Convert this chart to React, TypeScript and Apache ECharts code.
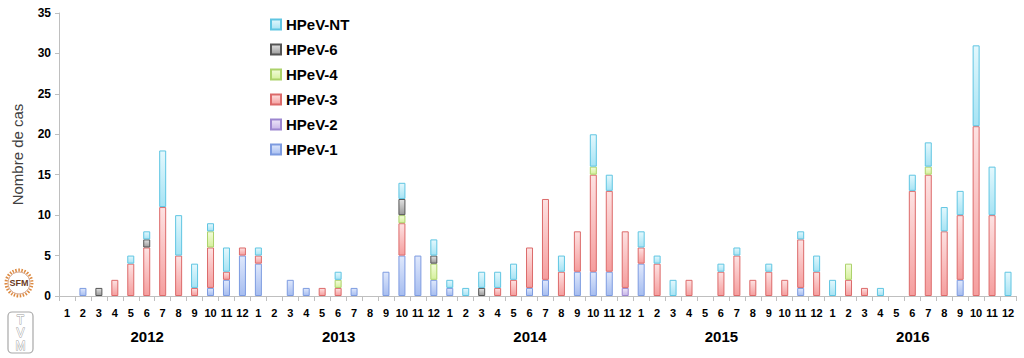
import React, { useEffect, useRef } from "react";
import * as echarts from "echarts";

const MONTHS = ["1", "2", "3", "4", "5", "6", "7", "8", "9", "10", "11", "12"];
const YEARS = ["2012", "2013", "2014", "2015", "2016"];
const Y_TICKS = { min: 0, max: 35, interval: 5 };

// 60 months: 2012-01 .. 2016-12
const HPEV1 = [
  0, 1, 0, 0, 0, 0, 0, 0, 0, 1, 2, 5,
  4, 0, 2, 1, 0, 0, 1, 0, 3, 5, 5, 2,
  1, 0, 0, 0, 0, 1, 2, 0, 3, 3, 3, 0,
  4, 0, 0, 0, 0, 0, 0, 0, 0, 0, 1, 0,
  0, 0, 0, 0, 0, 0, 0, 0, 2, 0, 0, 0,
];
const HPEV2 = [
  0, 0, 0, 0, 0, 0, 0, 0, 0, 0, 0, 0,
  0, 0, 0, 0, 0, 0, 0, 0, 0, 0, 0, 0,
  0, 0, 0, 0, 0, 0, 0, 0, 0, 0, 0, 1,
  0, 0, 0, 0, 0, 0, 0, 0, 0, 0, 0, 0,
  0, 0, 0, 0, 0, 0, 0, 0, 0, 0, 0, 0,
];
const HPEV3 = [
  0, 0, 0, 2, 4, 6, 11, 5, 1, 5, 1, 1,
  1, 0, 0, 0, 1, 1, 0, 0, 0, 4, 0, 0,
  0, 0, 0, 1, 2, 5, 10, 3, 5, 12, 10, 7,
  2, 4, 0, 2, 0, 3, 5, 2, 3, 2, 6, 3,
  0, 2, 1, 0, 0, 13, 15, 8, 8, 21, 10, 0,
];
const HPEV4 = [
  0, 0, 0, 0, 0, 0, 0, 0, 0, 2, 0, 0,
  0, 0, 0, 0, 0, 1, 0, 0, 0, 1, 0, 2,
  0, 0, 0, 0, 0, 0, 0, 0, 0, 1, 0, 0,
  0, 0, 0, 0, 0, 0, 0, 0, 0, 0, 0, 0,
  0, 2, 0, 0, 0, 0, 1, 0, 0, 0, 0, 0,
];
const HPEV6 = [
  0, 0, 1, 0, 0, 1, 0, 0, 0, 0, 0, 0,
  0, 0, 0, 0, 0, 0, 0, 0, 0, 2, 0, 1,
  0, 0, 1, 0, 0, 0, 0, 0, 0, 0, 0, 0,
  0, 0, 0, 0, 0, 0, 0, 0, 0, 0, 0, 0,
  0, 0, 0, 0, 0, 0, 0, 0, 0, 0, 0, 0,
];
const HPEVNT = [
  0, 0, 0, 0, 1, 1, 7, 5, 3, 1, 3, 0,
  1, 0, 0, 0, 0, 1, 0, 0, 0, 2, 0, 2,
  1, 1, 2, 2, 2, 0, 0, 2, 0, 4, 2, 0,
  2, 1, 2, 0, 0, 1, 1, 0, 1, 0, 1, 2,
  2, 0, 0, 1, 0, 2, 3, 3, 3, 10, 6, 3,
];

const SERIES = [
  { name: "HPeV-1", data: HPEV1, top: "#dfe8fc", bottom: "#a6bdf0", border: "#7d9be0" },
  { name: "HPeV-2", data: HPEV2, top: "#ede6f8", bottom: "#c6b4e8", border: "#9c86cf" },
  { name: "HPeV-3", data: HPEV3, top: "#fde2e2", bottom: "#f59e9e", border: "#dc6a6a" },
  { name: "HPeV-4", data: HPEV4, top: "#f3fcdc", bottom: "#d5f09c", border: "#acd26a" },
  { name: "HPeV-6", data: HPEV6, top: "#e2e2e2", bottom: "#9a9a9a", border: "#555555" },
  { name: "HPeV-NT", data: HPEVNT, top: "#e4f8fd", bottom: "#a6e3f4", border: "#5fc5e2" },
];

const FONT = "'Liberation Sans', Arial, sans-serif";

export default function App() {
  const ref = useRef<HTMLDivElement>(null);
  useEffect(() => {
    if (!ref.current) return;
    const chart = echarts.init(ref.current, null, { renderer: "svg" });
    const categories: string[] = [];
    YEARS.forEach(() => MONTHS.forEach((m) => categories.push(m)));

    const series = SERIES.map((s) => ({
      name: s.name,
      type: "bar",
      stack: "total",
      barWidth: 7,
      data: s.data.map((v) => (v === 0 ? null : v)),
      itemStyle: {
        color: new echarts.graphic.LinearGradient(0, 0, 0, 1, [
          { offset: 0, color: s.top },
          { offset: 1, color: s.bottom },
        ]),
        borderColor: s.border,
        borderWidth: 1,
      },
    }));

    const letter = (t: string, y: number) => ({
      type: "text",
      x: 20.5,
      y,
      style: {
        text: t,
        fontSize: 12,
        fill: "#fff",
        stroke: "#9a9a9a",
        lineWidth: 0.8,
        align: "center",
        verticalAlign: "middle",
        fontFamily: FONT,
      },
    });

    chart.setOption({
      animation: false,
      textStyle: { fontFamily: FONT },
      grid: { left: 59, right: 8, top: 13, bottom: 62, containLabel: false },
      legend: {
        orient: "vertical",
        left: 270,
        top: 17,
        padding: 0,
        itemGap: 10,
        itemWidth: 10,
        itemHeight: 10,
        icon: "rect",
        data: ["HPeV-NT", "HPeV-6", "HPeV-4", "HPeV-3", "HPeV-2", "HPeV-1"],
        textStyle: { fontSize: 15, fontWeight: "bold", color: "#000", fontFamily: FONT },
      },
      xAxis: [
        {
          type: "category",
          data: categories,
          axisLine: { lineStyle: { color: "#bfbfbf", width: 1 } },
          axisTick: { show: true, interval: 0, length: 5, lineStyle: { color: "#bfbfbf" } },
          axisLabel: { interval: 0, fontSize: 11, fontWeight: "bold", color: "#000", margin: 11, fontFamily: FONT },
        },
        {
          type: "category",
          data: YEARS,
          position: "bottom",
          offset: 25,
          axisLine: { show: false },
          axisTick: { show: false },
          axisLabel: { fontSize: 15, fontWeight: "bold", color: "#000", margin: 8, padding: [0, 15, 0, 0], fontFamily: FONT },
        },
      ],
      yAxis: {
        type: "value",
        min: Y_TICKS.min,
        max: Y_TICKS.max,
        interval: Y_TICKS.interval,
        name: "Nombre de cas",
        nameLocation: "middle",
        nameGap: 34,
        nameTextStyle: { fontSize: 15, color: "#404040", fontFamily: FONT },
        splitLine: { show: false },
        axisLine: { show: true, lineStyle: { color: "#bfbfbf" } },
        axisTick: { show: true, length: 4, lineStyle: { color: "#bfbfbf" } },
        axisLabel: { fontSize: 12, fontWeight: "bold", color: "#000", margin: 8, fontFamily: FONT },
      },
      graphic: [
        {
          type: "circle",
          shape: { cx: 19, cy: 283, r: 13 },
          style: { fill: "#fff", stroke: "#dd8a40", lineWidth: 3, lineDash: [1.5, 1.5] },
        },
        {
          type: "circle",
          shape: { cx: 19, cy: 283, r: 11 },
          style: { fill: "#fff", stroke: "#b5643a", lineWidth: 0.6 },
        },
        {
          type: "text",
          x: 19,
          y: 283,
          style: { text: "SFM", fontSize: 9, fontWeight: "bold", fill: "#6b3a1f", align: "center", verticalAlign: "middle", fontFamily: FONT },
        },
        {
          type: "rect",
          shape: { x: 8, y: 312, width: 25, height: 41, r: 4 },
          style: { fill: "none", stroke: "#a8a8a8", lineWidth: 1.2 },
        },
        letter("T", 320),
        letter("V", 333),
        letter("M", 346),
      ],
      series,
    });
    return () => chart.dispose();
  }, []);
  return (
    <div
      ref={ref}
      style={{ position: "fixed", left: 0, top: 0, width: 1024, height: 358, background: "#fff" }}
    />
  );
}
